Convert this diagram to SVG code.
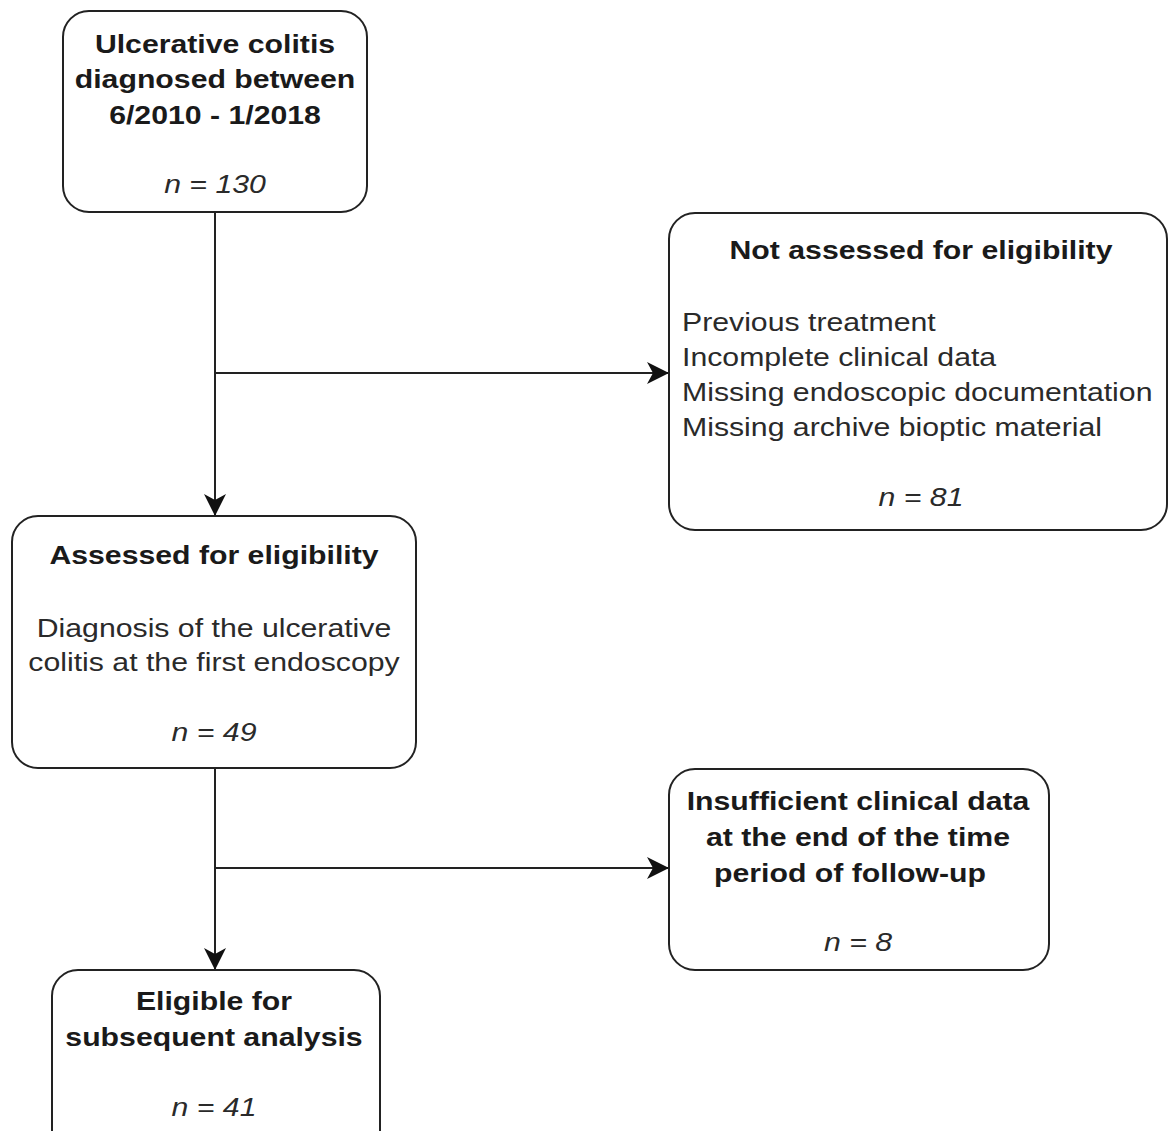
<svg xmlns="http://www.w3.org/2000/svg" width="1168" height="1131" viewBox="0 0 1168 1131">
<defs>
<style>
.box{fill:#fff;stroke:#222;stroke-width:2}
.b{font-family:"Liberation Sans",Arial,sans-serif;font-size:26px;font-weight:bold;fill:#1a1a1a;text-anchor:middle}
.r{font-family:"Liberation Sans",Arial,sans-serif;font-size:26px;fill:#2a2a2a}
.c{text-anchor:middle}
.i{font-family:"Liberation Sans",Arial,sans-serif;font-size:26px;font-style:italic;fill:#2a2a2a;text-anchor:middle}
.ln{fill:none;stroke:#222;stroke-width:2}
</style>
<marker id="arr" viewBox="0 0 22 22" refX="21" refY="11" markerWidth="22" markerHeight="22" markerUnits="userSpaceOnUse" orient="auto">
<path d="M0,0 L22,11 L0,22 L6,11 Z" fill="#111"/>
</marker>
</defs>
<rect width="1168" height="1131" fill="#fff"/>
<g id="connectors">
<path class="ln" d="M215,212 V515" marker-end="url(#arr)"/>
<path class="ln" d="M215,373 H668" marker-end="url(#arr)"/>
<path class="ln" d="M215,768 V969" marker-end="url(#arr)"/>
<path class="ln" d="M215,868 H668" marker-end="url(#arr)"/>
</g>
<g id="n1">
<rect class="box" x="63" y="11" width="304" height="201" rx="26"/>
<text class="b" transform="translate(215,53) scale(1.163,1)">Ulcerative colitis</text>
<text class="b" transform="translate(215,88) scale(1.163,1)">diagnosed between</text>
<text class="b" transform="translate(215,124) scale(1.163,1)">6/2010 - 1/2018</text>
<text class="i" transform="translate(215,193) scale(1.163,1)">n = 130</text>
</g>
<g id="n2">
<rect class="box" x="669" y="213" width="498" height="317" rx="26"/>
<text class="b" transform="translate(921,259) scale(1.163,1)">Not assessed for eligibility</text>
<text class="r" transform="translate(682,331) scale(1.163,1)">Previous treatment</text>
<text class="r" transform="translate(682,366) scale(1.163,1)">Incomplete clinical data</text>
<text class="r" transform="translate(682,401) scale(1.163,1)">Missing endoscopic documentation</text>
<text class="r" transform="translate(682,436) scale(1.163,1)">Missing archive bioptic material</text>
<text class="i" transform="translate(921,506) scale(1.163,1)">n = 81</text>
</g>
<g id="n3">
<rect class="box" x="12" y="516" width="404" height="252" rx="26"/>
<text class="b" transform="translate(214,564) scale(1.163,1)">Assessed for eligibility</text>
<text class="r c" transform="translate(214,637) scale(1.163,1)">Diagnosis of the ulcerative</text>
<text class="r c" transform="translate(214,671) scale(1.163,1)">colitis at the first endoscopy</text>
<text class="i" transform="translate(214,741) scale(1.163,1)">n = 49</text>
</g>
<g id="n4">
<rect class="box" x="669" y="769" width="380" height="201" rx="26"/>
<text class="b" transform="translate(858,810) scale(1.163,1)">Insufficient clinical data</text>
<text class="b" transform="translate(858,846) scale(1.163,1)">at the end of the time</text>
<text class="b" transform="translate(850,882) scale(1.163,1)">period of follow-up</text>
<text class="i" transform="translate(858,951) scale(1.163,1)">n = 8</text>
</g>
<g id="n5">
<rect class="box" x="52" y="970" width="328" height="190" rx="26"/>
<text class="b" transform="translate(214,1010) scale(1.163,1)">Eligible for</text>
<text class="b" transform="translate(214,1046) scale(1.163,1)">subsequent analysis</text>
<text class="i" transform="translate(214,1116) scale(1.163,1)">n = 41</text>
</g>
</svg>
